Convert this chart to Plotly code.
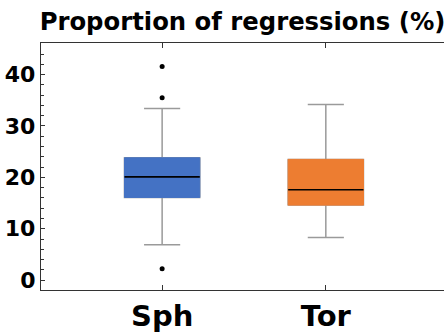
import plotly.graph_objects as go

# Box statistics per group (percent)
categories = ["Sph", "Tor"]
q1 = [16.1, 14.6]
median = [20.1, 17.6]
q3 = [23.8, 23.5]
lower_whisker = [6.9, 8.3]
upper_whisker = [33.4, 34.2]
outliers = [[41.6, 35.5, 2.2], []]
y_ticks = [0, 10, 20, 30, 40]

fill_colors = ["#4472C4", "#ED7D31"]
whisker_color = "#9a9a9a"
frame_color = "#333333"
FONT = "DejaVu Sans"

positions = list(range(len(categories)))
BOX_W = 0.46
Y_RANGE = [-1.92, 46.15]

fig = go.Figure()
for i, pos in enumerate(positions):
    # whiskers + caps
    fig.add_trace(go.Box(
        x=[pos], q1=[q1[i]], median=[median[i]], q3=[q3[i]],
        lowerfence=[lower_whisker[i]], upperfence=[upper_whisker[i]],
        width=BOX_W, whiskerwidth=0.48, fillcolor=fill_colors[i],
        line=dict(color=whisker_color, width=1.5), boxpoints=False,
        showlegend=False, hoverinfo="skip"))
    # filled body without grey outline
    fig.add_trace(go.Box(
        x=[pos], q1=[q1[i]], median=[median[i]], q3=[q3[i]],
        lowerfence=[q1[i]], upperfence=[q3[i]],
        width=BOX_W, whiskerwidth=0, fillcolor=fill_colors[i],
        line=dict(color=fill_colors[i], width=1), boxpoints=False,
        showlegend=False, hoverinfo="skip"))
    # black median line
    fig.add_trace(go.Scatter(
        x=[pos - BOX_W / 2, pos + BOX_W / 2], y=[median[i], median[i]],
        mode="lines", line=dict(color="black", width=1.6),
        showlegend=False, hoverinfo="skip"))
    # outlying points
    if outliers[i]:
        fig.add_trace(go.Scatter(
            x=[pos] * len(outliers[i]), y=outliers[i], mode="markers",
            marker=dict(color="black", size=5),
            showlegend=False, hoverinfo="skip"))

fig.update_layout(
    width=444, height=333,
    margin=dict(l=41, r=0, t=43, b=40),
    paper_bgcolor="white", plot_bgcolor="white",
    boxmode="overlay",
    title=dict(text="Proportion of regressions (%)", x=0.5, xref="paper",
               y=1 - 21 / 333, yref="container", yanchor="middle",
               font=dict(family=FONT, size=24.3, color="black", weight="bold")),
    xaxis=dict(range=[-0.74, 1.722], tickmode="array", tickvals=positions,
               ticktext=categories, ticks="inside", ticklen=5,
               tickcolor=frame_color, showline=True, linecolor=frame_color,
               linewidth=1.3, mirror="ticks", showgrid=False, zeroline=False,
               tickfont=dict(family=FONT, size=29, color="black", weight="bold")),
    yaxis=dict(range=Y_RANGE, tickmode="array", tickvals=y_ticks,
               ticks="inside", ticklen=4, tickcolor=frame_color,
               minor=dict(dtick=2, ticks="inside", ticklen=2.5,
                          tickcolor=frame_color, showgrid=False),
               showline=True, linecolor=frame_color, linewidth=1.3,
               mirror=False, showgrid=False, zeroline=False,
               tickfont=dict(family=FONT, size=22, color="black", weight="bold")),
    # right-hand ticks only (the frame edge sits just past the page)
    yaxis2=dict(overlaying="y", side="right", range=Y_RANGE, tickmode="array",
                tickvals=y_ticks, ticks="inside", ticklen=4,
                tickcolor=frame_color, showticklabels=False, showline=False,
                showgrid=False, zeroline=False),
)

fig.write_html("out.html")
